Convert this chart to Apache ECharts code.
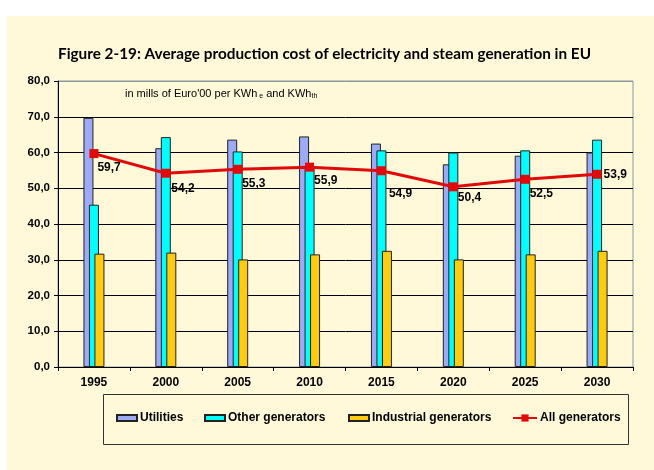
<!DOCTYPE html>
<html>
<head>
<meta charset="utf-8">
<script src="https://cdn.jsdelivr.net/npm/echarts@6/dist/echarts.min.js"></script>
<style>
  html, body { margin: 0; padding: 0; background: #ffffff; }
  #main { width: 654px; height: 470px; }
</style>
</head>
<body>
<div id="main"></div>
<script>
// data
const years = ['1995', '2000', '2005', '2010', '2015', '2020', '2025', '2030'];
const utilities = [69.7, 61.2, 63.6, 64.5, 62.5, 56.7, 59.1, 60.0];
const otherGen = [45.4, 64.3, 60.3, 56.0, 60.6, 60.0, 60.6, 63.6];
const industrialGen = [31.7, 32.0, 30.1, 31.5, 32.5, 30.1, 31.5, 32.5];
const allGen = [59.7, 54.2, 55.3, 55.9, 54.9, 50.4, 52.5, 53.9];
const yTicks = [0, 10, 20, 30, 40, 50, 60, 70, 80];

const chart = echarts.init(document.getElementById('main'));

const bg = '#FFF9DA';
const font = 'Liberation Sans, Arial, sans-serif';
const comma = v => v.toFixed(1).replace('.', ',');

// where the value labels sit next to the markers
const labelOffsets = [[-5, 14], [-3, 15], [-4, 14], [-4, 14], [-1, 23], [-4, 11], [-4, 14], [-2, 0]];

const legendBase = {
  padding: 0,
  itemGap: 0,
  textStyle: { fontFamily: font, fontWeight: 'bold', fontSize: 12, color: '#000', padding: [0, 0, 0, -2] },
  selectedMode: false
};

const option = {
  animation: false,
  graphic: [
    { type: 'rect', z: -10, silent: true, shape: { x: 7, y: 16, width: 647, height: 454 }, style: { fill: bg } },
    { type: 'rect', silent: true, shape: { x: 103.5, y: 394.5, width: 525, height: 50 },
      style: { fill: 'none', stroke: '#333', lineWidth: 1 } },
    { type: 'text', left: 125, top: 88, silent: true,
      style: {
        text: "{n|in mills of Euro'00 per KWh}{s| e}{n| and KWh}{s|th}",
        rich: {
          n: { fontFamily: font, fontSize: 11, fill: '#000' },
          s: { fontFamily: font, fontSize: 7, fill: '#000', padding: [6, 0, 0, 0] }
        }
      } }
  ],
  title: {
    text: 'Figure 2-19: Average production cost of electricity and steam generation in EU',
    left: 58,
    top: 47,
    padding: 0,
    textStyle: { fontFamily: 'Lato, sans-serif', fontWeight: 'bold', fontSize: 15.3, color: '#000' }
  },
  legend: [
    Object.assign({}, legendBase, { data: ['Utilities'], left: 116, top: 412, itemWidth: 20, itemHeight: 6, icon: 'rect' }),
    Object.assign({}, legendBase, { data: ['Other generators'], left: 204, top: 412, itemWidth: 20, itemHeight: 6, icon: 'rect' }),
    Object.assign({}, legendBase, { data: ['Industrial generators'], left: 348, top: 412, itemWidth: 20, itemHeight: 6, icon: 'rect' }),
    Object.assign({}, legendBase, { data: ['All generators'], left: 512, top: 412, itemWidth: 24, itemHeight: 9 })
  ],
  grid: {
    left: 58, right: 21, top: 81, bottom: 103,
    show: true, backgroundColor: 'transparent', borderColor: '#8a96a0', borderWidth: 1
  },
  xAxis: {
    type: 'category',
    data: years,
    axisLine: { lineStyle: { color: '#000', width: 1 } },
    axisTick: { show: true, length: 4, lineStyle: { color: '#000' } },
    axisLabel: { fontFamily: font, fontWeight: 'bold', fontSize: 12, color: '#000', margin: 10 }
  },
  yAxis: {
    type: 'value',
    min: yTicks[0],
    max: yTicks[yTicks.length - 1],
    interval: 10,
    axisLine: { show: true, lineStyle: { color: '#000', width: 1 } },
    axisTick: { show: true, length: 4, lineStyle: { color: '#000' } },
    axisLabel: { fontFamily: font, fontWeight: 'bold', fontSize: 11.5, color: '#000', margin: 8, formatter: comma },
    splitLine: { lineStyle: { color: ['#000', '#000', '#000', '#000', '#000', '#000', '#000', '#000', '#8a96a0'], width: 1 } }
  },
  series: [
    {
      name: 'Utilities', type: 'bar', data: utilities,
      barWidth: 10, barGap: '-45%',
      itemStyle: { color: '#9DAAF7', borderColor: '#222', borderWidth: 1 }
    },
    {
      name: 'Other generators', type: 'bar', data: otherGen,
      barWidth: 10, barGap: '-45%',
      itemStyle: { color: '#00FFFF', borderColor: '#222', borderWidth: 1 }
    },
    {
      name: 'Industrial generators', type: 'bar', data: industrialGen,
      barWidth: 10, barGap: '-45%',
      itemStyle: { color: '#FFCC11', borderColor: '#222', borderWidth: 1 }
    },
    {
      name: 'All generators', type: 'line', z: 5,
      data: allGen.map((v, i) => ({ value: v, label: { offset: labelOffsets[i] } })),
      symbol: 'rect', symbolSize: 9,
      lineStyle: { color: '#E00A0A', width: 3 },
      itemStyle: { color: '#E00A0A' },
      label: {
        show: true, position: 'right', distance: 4,
        fontFamily: font, fontWeight: 'bold', fontSize: 12, color: '#000',
        formatter: p => comma(p.value)
      }
    }
  ]
};

chart.setOption(option);
</script>
</body>
</html>
